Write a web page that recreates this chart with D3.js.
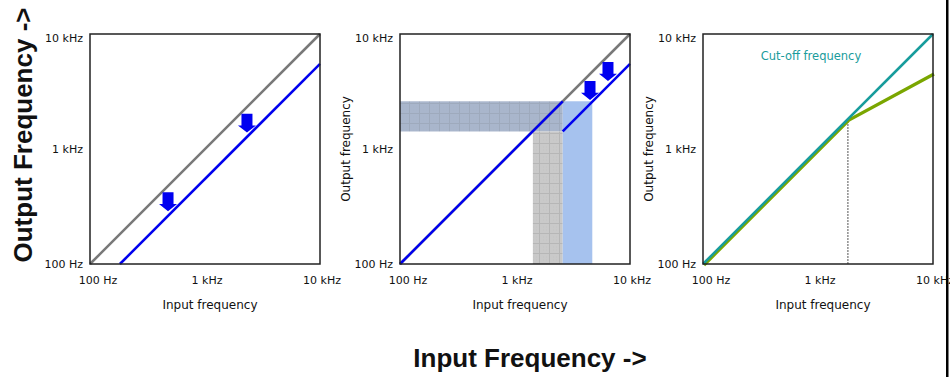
<!DOCTYPE html>
<html>
<head>
<meta charset="utf-8">
<script src="https://cdn.jsdelivr.net/npm/d3@7"></script>
<style>
  body { margin: 0; background: #fff; }
  text { font-family: "DejaVu Sans", Verdana, sans-serif; fill: #111; }
  .big { font-family: "Liberation Sans", Arial, sans-serif; font-weight: bold; font-size: 26px; }
</style>
</head>
<body>
<div id="chart"></div>
<script>
// axis ticks shared by the three panels
const ticks = [100, 1000, 10000];
const tickLabels = ["100 Hz", "1 kHz", "10 kHz"];

// panel 1: frequency shift of the whole range
const p1Gray = [[100, 100], [10000, 10000]];
const p1Blue = [[182, 100], [10000, 5500]];
const p1Arrows = [{x: 477, top: 420, tip: 288}, {x: 2317, top: 2028, tip: 1390}];

// panel 2: shift above the cut-off, folded bands
const p2Gray = [[100, 100], [10000, 10000]];
const p2BlueLow = [[100, 100], [2600, 2600]];
const p2BlueHigh = [[2600, 1420], [10000, 5500]];
const p2Bands = [
  {x0: 100, x1: 2600, y0: 1420, y1: 2600, fill: "url(#hatchBlue)"},
  {x0: 1430, x1: 2600, y0: 100, y1: 1420, fill: "url(#hatchGray)"},
  {x0: 2600, x1: 4700, y0: 100, y1: 2600, fill: "#a6c2ee"}
];
const p2Arrows = [{x: 4490, top: 3900, tip: 2668}, {x: 6435, top: 5710, tip: 3900}];

// panel 3: compression above the cut-off frequency
const p3Teal = [[100, 100], [10000, 10000]];
const p3Green = [[100, 100], [1820, 1820], [10000, 4580]];
const p3Cutoff = 1820;

const W = 950, H = 377;
const size = 230, boxTop = 34;
const lefts = [90, 400, 703];

const svg = d3.select("#chart").append("svg")
    .attr("width", W)
    .attr("height", H);

// hatched fills
const defs = svg.append("defs");
function hatch(id, bg, stroke) {
  const p = defs.append("pattern")
      .attr("id", id)
      .attr("patternUnits", "userSpaceOnUse")
      .attr("width", 10).attr("height", 10);
  p.append("rect").attr("width", 10).attr("height", 10).attr("fill", bg);
  p.append("path").attr("d", "M9.5,0V10M0,9.5H10")
      .attr("stroke", stroke).attr("stroke-width", 1).attr("fill", "none");
  p.append("path").attr("d", "M3,3h1M6,3h1M3,6h1M6,6h1")
      .attr("stroke", stroke).attr("stroke-width", 0.6).attr("opacity", 0.5);
}
hatch("hatchGray", "#c9c9c9", "#b6b6b6");
hatch("hatchBlue", "#a9b6cc", "#9eaabd");

const x = d3.scaleLog().domain([100, 10000]).range([0, size]);
const y = d3.scaleLog().domain([100, 10000]).range([size, 0]);
const line = d3.line().x(d => x(d[0])).y(d => y(d[1]));

function panel(i) {
  return svg.append("g").attr("transform", "translate(" + lefts[i] + "," + boxTop + ")");
}

function axes(g, withYTitle) {
  g.selectAll(".xt").data(ticks).enter().append("text")
      .attr("x", (d, i) => x(d) + (i === 0 ? 8 : 2))
      .attr("y", 250)
      .attr("text-anchor", "middle")
      .attr("font-size", 11)
      .text((d, i) => tickLabels[i]);
  g.selectAll(".yt").data(ticks).enter().append("text")
      .attr("x", -7)
      .attr("y", (d, i) => y(d) + (i === 2 ? 8 : 4))
      .attr("text-anchor", "end")
      .attr("font-size", 11)
      .text((d, i) => tickLabels[i]);
  g.append("text")
      .attr("x", size / 2 + 5)
      .attr("y", 275)
      .attr("text-anchor", "middle")
      .attr("font-size", 12)
      .text("Input frequency");
  if (withYTitle) {
    g.append("text")
        .attr("transform", "translate(-50," + (size / 2) + ") rotate(-90)")
        .attr("text-anchor", "middle")
        .attr("font-size", 12)
        .text("Output frequency");
  }
}

function frame(g) {
  g.append("rect")
      .attr("width", size).attr("height", size)
      .attr("fill", "none")
      .attr("stroke", "#222")
      .attr("stroke-width", 1.5);
}

function arrows(g, data) {
  g.selectAll(".arrow").data(data).enter().append("path")
      .attr("fill", "#0000f0")
      .attr("d", d => {
        const cx = x(d.x), t = y(d.top), b = y(d.tip);
        const hl = (b - t) * 0.38;
        return "M" + (cx - 5.5) + "," + t + "H" + (cx + 5.5) + "V" + (b - hl) +
               "H" + (cx + 9) + "L" + cx + "," + b + "L" + (cx - 9) + "," + (b - hl) +
               "H" + (cx - 5.5) + "Z";
      });
}

// panel 1
const g1 = panel(0);
g1.append("path").datum(p1Gray).attr("d", line)
    .attr("stroke", "#787878").attr("stroke-width", 2.5).attr("fill", "none");
g1.append("path").datum(p1Blue).attr("d", line)
    .attr("stroke", "#0000ee").attr("stroke-width", 2.5).attr("fill", "none");
arrows(g1, p1Arrows);
frame(g1);
axes(g1, false);

// panel 2
const g2 = panel(1);
g2.selectAll(".band").data(p2Bands).enter().append("rect")
    .attr("x", d => x(d.x0))
    .attr("width", d => x(d.x1) - x(d.x0))
    .attr("y", d => y(d.y1))
    .attr("height", d => y(d.y0) - y(d.y1))
    .attr("fill", d => d.fill);
g2.append("path").datum(p2Gray).attr("d", line)
    .attr("stroke", "#787878").attr("stroke-width", 2.5).attr("fill", "none");
[p2BlueLow, p2BlueHigh].forEach(seg => {
  g2.append("path").datum(seg).attr("d", line)
      .attr("stroke", "#0000ee").attr("stroke-width", 2.5).attr("fill", "none");
});
arrows(g2, p2Arrows);
frame(g2);
axes(g2, true);

// panel 3
const g3 = panel(2);
g3.append("line")
    .attr("x1", x(p3Cutoff)).attr("x2", x(p3Cutoff))
    .attr("y1", y(100)).attr("y2", y(p3Cutoff))
    .attr("stroke", "#555").attr("stroke-width", 1).attr("stroke-dasharray", "2,1");
g3.append("path").datum(p3Green).attr("d", line)
    .attr("stroke", "#7aa600").attr("stroke-width", 3.2).attr("fill", "none")
    .attr("transform", "translate(1,1)");
g3.append("path").datum(p3Teal).attr("d", line)
    .attr("stroke", "#179c9c").attr("stroke-width", 2.5).attr("fill", "none");
g3.append("text")
    .attr("x", 108).attr("y", 26)
    .attr("text-anchor", "middle")
    .attr("font-size", 11.5)
    .style("fill", "#1a9c9c")
    .text("Cut-off frequency");
frame(g3);
axes(g3, true);

// overall titles
svg.append("text").attr("class", "big")
    .attr("transform", "translate(32,135) rotate(-90)")
    .attr("text-anchor", "middle")
    .text("Output Frequency ->");
svg.append("text").attr("class", "big")
    .attr("x", 530).attr("y", 367)
    .attr("text-anchor", "middle")
    .text("Input Frequency ->");

// right border
svg.append("rect")
    .attr("x", 946).attr("y", 0)
    .attr("width", 2.5).attr("height", H)
    .attr("fill", "#000");
</script>
</body>
</html>
